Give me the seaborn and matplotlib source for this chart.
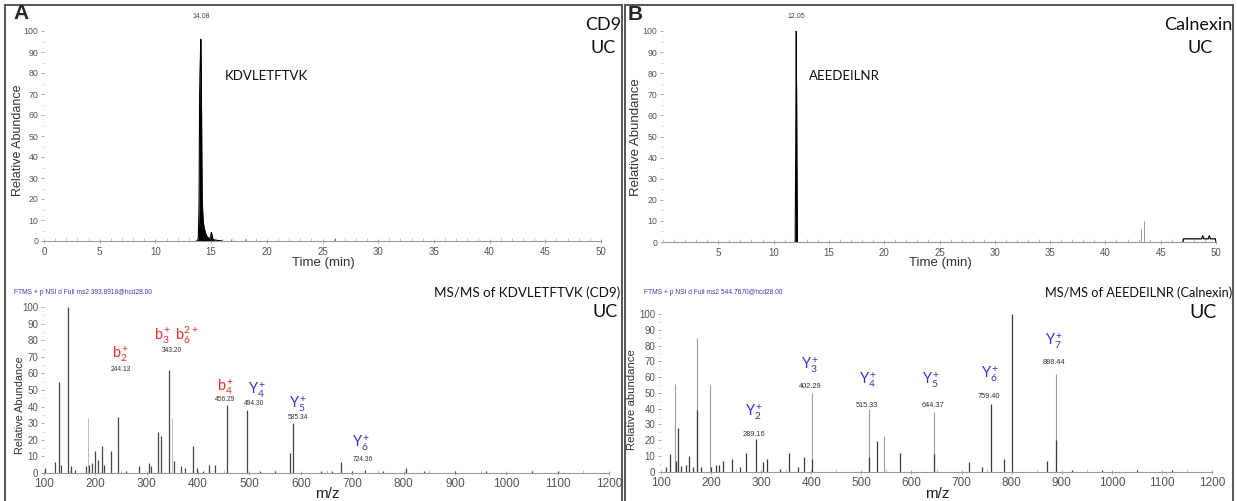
import numpy as np
import pandas as pd
import matplotlib
matplotlib.use("Agg")
import matplotlib.pyplot as plt
import seaborn as sns
from matplotlib.lines import Line2D
from matplotlib.ticker import MultipleLocator, FixedLocator

# ---------------- data ----------------
# Panel A chromatogram (KDVLETFTVK, CD9)
chrom_a_time = [13.70, 13.85, 13.92, 13.97, 14.00, 14.04, 14.08, 14.12, 14.16, 14.20, 14.26,
                14.32, 14.40, 14.48, 14.56, 14.65, 14.75, 14.85, 14.95, 15.02, 15.08, 15.15,
                15.30, 15.60, 16.00]
chrom_a_int = [0, 1, 18, 70, 80, 88, 96, 80, 45, 20, 12, 8, 6, 4, 3, 2, 1.5, 1, 2, 4, 3, 1,
               0.5, 0.3, 0]
chrom_a_minor_time = [16.8, 18.1, 26.1]
chrom_a_minor_int = [1.0, 0.8, 1.5]

# Panel B chromatogram (AEEDEILNR, Calnexin)
chrom_b_time = [11.95, 12.00, 12.02, 12.04, 12.05, 12.06, 12.08, 12.10, 12.15]
chrom_b_int = [0, 44, 70, 85, 100, 85, 70, 44, 0]
chrom_b_tail_time = [47.0, 47.05, 48.7, 48.8, 48.9, 49.3, 49.4, 49.5, 49.95, 50.0]
chrom_b_tail_int = [0, 1.5, 1.5, 3, 1.5, 1.5, 3, 1.5, 1.5, 0]
chrom_b_minor_time = [43.2, 43.45]
chrom_b_minor_int = [6, 10]

# Panel A MS/MS spectrum
mz_a = [101, 122, 129, 134, 147.11, 153, 160, 182, 187.5, 193, 199, 205, 213, 216, 230,
        244.13, 260, 284, 305, 309, 322, 328, 343.20, 354, 367, 375, 390, 397, 410, 421,
        432.5, 456.29, 494.30, 520, 550, 578, 585.34, 640, 660, 679, 700, 724.36, 760, 804,
        840, 900, 960, 1050, 1100]
int_a = [3, 6.6, 55, 5, 100, 4, 2, 4, 5, 6, 13, 8, 16, 5, 13, 34, 1.5, 4, 6, 4, 25, 22, 62,
         7, 4, 3, 16, 3, 1.5, 5, 5, 41, 38, 1, 1.5, 12, 30, 1, 1, 6.5, 1, 2, 1, 3, 1, 1, 1,
         1, 1]
mz_a_light = [185, 350]
int_a_light = [33, 33]

# Panel B MS/MS spectrum
mz_b = [110, 118, 129, 134, 140, 150, 156, 164, 171, 179, 199, 209, 216, 224, 241, 257, 269,
        289.16, 304, 312, 337, 356, 374, 385, 402.29, 515.33, 531, 578, 644.37, 715, 740,
        759.40, 785, 800.37, 870, 888.44, 920, 980, 1050, 1120]
int_b = [3, 11, 7, 28, 3.6, 4, 10, 3, 39, 3, 3, 4, 4, 7, 8, 3, 11.6, 20.5, 6, 8, 2, 11.6, 3,
         9.5, 8, 9.5, 19.7, 12, 11, 6, 3, 43, 8, 100, 7, 20, 1, 1, 1, 1]
mz_b_light = [128, 171, 197, 402.29, 515.33, 546, 644.37, 888.44]
int_b_light = [55.6, 84.6, 55, 50, 40, 22.6, 38, 62]

# Ion annotations (label, x position, y position) and m/z value labels
ions_a = [r"b$_2^+$", r"b$_3^+$ b$_6^{2+}$", r"b$_4^+$", r"Y$_4^+$", r"Y$_5^+$", r"Y$_6^+$"]
ions_a_color = ["#e8302c", "#e8302c", "#e8302c", "#3434cc", "#3434cc", "#3434cc"]
ions_a_x = [250, 358, 453, 515, 595, 718]
ions_a_y = [71.5, 83, 51.6, 50, 41.6, 18]
vals_a = ["244.13", "343.20", "456.29", "494.30", "585.34", "724.36"]
vals_a_x = [250, 348, 453, 509, 594, 720]
vals_a_y = [62.5, 73.7, 44, 41.6, 33.5, 8.4]

ions_b = [r"Y$_2^+$", r"Y$_3^+$", r"Y$_4^+$", r"Y$_5^+$", r"Y$_6^+$", r"Y$_7^+$"]
ions_b_x = [287, 398, 513, 640, 758, 884]
ions_b_y = [38, 67.7, 58, 58, 62, 83]
vals_b = ["289.16", "402.29", "515.33", "644.37", "759.40", "888.44"]
vals_b_x = [285, 397, 512, 642, 755, 885]
vals_b_y = [23.4, 53.8, 42, 42, 48, 69]

chrom_ticks_a = [0, 5, 10, 15, 20, 25, 30, 35, 40, 45, 50]
chrom_ticks_b = [5, 10, 15, 20, 25, 30, 35, 40, 45, 50]
mz_ticks = [100, 200, 300, 400, 500, 600, 700, 800, 900, 1000, 1100, 1200]
y_ticks = [0, 10, 20, 30, 40, 50, 60, 70, 80, 90, 100]

# ---------------- style ----------------
sns.set_theme(style="white")
plt.rcParams["font.family"] = ["Liberation Sans", "DejaVu Sans"]
plt.rcParams["mathtext.fontset"] = "custom"
plt.rcParams["mathtext.rm"] = "Lato"
plt.rcParams["mathtext.it"] = "Lato:italic"
plt.rcParams["mathtext.bf"] = "Lato:bold"

W, H = 1237, 501
fig = plt.figure(figsize=(W / 100, H / 100), dpi=100)
fig.patch.set_facecolor("white")


def box(l, r, b, t):
    return [l / W, 1 - b / H, (r - l) / W, (b - t) / H]


def fx(px):
    return px / W


def fy(py):
    return 1 - py / H


ax_at = fig.add_axes(box(44, 601, 241, 31))
ax_bt = fig.add_axes(box(663, 1216, 242, 31))
ax_ab = fig.add_axes(box(44, 609, 473, 307))
ax_bb = fig.add_axes(box(661, 1212, 471.7, 314))

TICKC = "#555555"


def style_axis(ax, xlim, xticks, xminor, xlab_size, ylab_size, xpad):
    ax.set_xlim(*xlim)
    ax.set_ylim(0, 100)
    for s in ["top", "right", "left"]:
        ax.spines[s].set_visible(False)
    ax.spines["bottom"].set_color("#9a9a9a")
    ax.spines["bottom"].set_linewidth(0.8)
    ax.xaxis.set_major_locator(FixedLocator(xticks))
    ax.xaxis.set_minor_locator(MultipleLocator(xminor))
    ax.yaxis.set_major_locator(FixedLocator(y_ticks))
    ax.yaxis.set_minor_locator(MultipleLocator(5))
    ax.tick_params(axis="x", which="major", direction="inout", length=3, width=0.6,
                   color="#999999", labelsize=xlab_size, labelcolor=TICKC, pad=xpad,
                   bottom=True)
    ax.tick_params(axis="x", which="minor", direction="in", length=2, width=0.5,
                   color="#aaaaaa", bottom=True)
    ax.tick_params(axis="y", which="major", direction="out", length=2.5, width=0.6,
                   color="#999999", labelsize=ylab_size, labelcolor=TICKC, pad=1.5, left=True)
    ax.tick_params(axis="y", which="minor", direction="out", length=1.5, width=0.5,
                   color="#bbbbbb", left=True)
    ax.set_xlabel("")
    ax.set_ylabel("")
    ax.set_facecolor("none")


# ---- chromatogram A ----
dfa = pd.DataFrame({"time": chrom_a_time, "intensity": chrom_a_int})
sns.lineplot(data=dfa, x="time", y="intensity", ax=ax_at, color="black", lw=0.8,
             estimator=None, sort=False)
ax_at.fill_between(dfa["time"], 0, dfa["intensity"], color="black", lw=0)
ax_at.vlines(chrom_a_minor_time, 0, chrom_a_minor_int, colors="#777777", lw=0.7)
style_axis(ax_at, (0, 50), chrom_ticks_a, 1, 7, 6.3, 3)
ax_at.text(14.08, 105, "14.08", ha="center", va="bottom", fontsize=5, color="#444444",
           clip_on=False)
ax_at.text(16.25, 78.5, "KDVLETFTVK", ha="left", va="center", fontsize=9.5,
           family="Lato", color="#111111")

# ---- chromatogram B ----
dfb = pd.DataFrame({"time": chrom_b_time, "intensity": chrom_b_int})
sns.lineplot(data=dfb, x="time", y="intensity", ax=ax_bt, color="black", lw=0.8,
             estimator=None, sort=False)
ax_bt.fill_between(dfb["time"], 0, dfb["intensity"], color="black", lw=0)
dfb2 = pd.DataFrame({"time": chrom_b_tail_time, "intensity": chrom_b_tail_int})
sns.lineplot(data=dfb2, x="time", y="intensity", ax=ax_bt, color="black", lw=0.9,
             estimator=None, sort=False)
ax_bt.vlines(chrom_b_minor_time, 0, chrom_b_minor_int, colors="#999999", lw=0.7)
style_axis(ax_bt, (0, 50), chrom_ticks_b, 1, 7, 6.3, 3)
ax_bt.text(12.05, 105, "12.05", ha="center", va="bottom", fontsize=5, color="#444444",
           clip_on=False)
ax_bt.text(13.2, 78.5, "AEEDEILNR", ha="left", va="center", fontsize=9.5,
           family="Lato", color="#111111")

# ---- spectrum A ----
ax_ab.vlines(mz_a_light, 0, int_a_light, colors="#bdbdbd", lw=0.7)
ax_ab.vlines(mz_a, 0, int_a, colors="#444444", lw=0.9)
style_axis(ax_ab, (100, 1200), mz_ticks, 50, 8.5, 7, 2)
for lab, c, x, y in zip(ions_a, ions_a_color, ions_a_x, ions_a_y):
    ax_ab.text(x, y, lab, ha="center", va="center", fontsize=10.5, color=c, family="Lato")
for lab, x, y in zip(vals_a, vals_a_x, vals_a_y):
    ax_ab.text(x, y, lab, ha="center", va="center", fontsize=4.8, color="#333333")

# ---- spectrum B ----
ax_bb.vlines(mz_b_light, 0, int_b_light, colors="#9e9e9e", lw=0.8)
ax_bb.vlines(mz_b, 0, int_b, colors="#3a3a3a", lw=0.9)
style_axis(ax_bb, (100, 1200), mz_ticks, 50, 8.5, 7, 2)
for lab, x, y in zip(ions_b, ions_b_x, ions_b_y):
    ax_bb.text(x, y, lab, ha="center", va="center", fontsize=10.5, color="#3434cc",
               family="Lato")
for lab, x, y in zip(vals_b, vals_b_x, vals_b_y):
    ax_bb.text(x, y, lab, ha="center", va="center", fontsize=5.3, color="#333333")

# ---------------- figure texts ----------------
fig.text(fx(13), fy(4), "A", fontsize=15, fontweight="bold", ha="left", va="top")
fig.text(fx(628), fy(5), "B", fontsize=15, fontweight="bold", ha="left", va="top")

lato = dict(family="Lato", color="#111111")
fig.text(fx(603), fy(25), "CD9", fontsize=13, ha="center", va="center", **lato)
fig.text(fx(603), fy(48), "UC", fontsize=13, ha="center", va="center", **lato)
fig.text(fx(1198), fy(25), "Calnexin", fontsize=13, ha="center", va="center", **lato)
fig.text(fx(1200), fy(48), "UC", fontsize=13, ha="center", va="center", **lato)

fig.text(fx(620), fy(293), "MS/MS of KDVLETFTVK (CD9)", fontsize=9.6, ha="right",
         va="center", **lato)
fig.text(fx(605), fy(312), "UC", fontsize=13, ha="center", va="center", **lato)
fig.text(fx(1232), fy(293), "MS/MS of AEEDEILNR (Calnexin)", fontsize=9.2, ha="right",
         va="center", **lato)
fig.text(fx(1203), fy(313), "UC", fontsize=14, ha="center", va="center", **lato)

fig.text(fx(14), fy(293), "FTMS + p NSI d Full ms2 393.8918@hcd28.00", fontsize=4.8,
         color="#3b3bbf", ha="left", va="center")
fig.text(fx(644), fy(293), "FTMS + p NSI d Full ms2 544.7670@hcd28.00", fontsize=4.8,
         color="#3b3bbf", ha="left", va="center")

fig.text(fx(323), fy(263), "Time (min)", fontsize=9.5, ha="center", va="center",
         color="#333333")
fig.text(fx(940), fy(263), "Time (min)", fontsize=9.5, ha="center", va="center",
         color="#333333")
fig.text(fx(327), fy(494), "m/z", fontsize=11, ha="center", va="center", color="#222222")
fig.text(fx(937), fy(494), "m/z", fontsize=11, ha="center", va="center", color="#222222")

fig.text(fx(18), fy(140), "Relative Abundance", fontsize=9, rotation=90, ha="center",
         va="center", color="#333333")
fig.text(fx(636), fy(137), "Relative Abundance", fontsize=9.5, rotation=90, ha="center",
         va="center", color="#333333")
fig.text(fx(20), fy(405), "Relative Abundance", fontsize=7.8, rotation=90, ha="center",
         va="center", color="#333333")
fig.text(fx(632), fy(400), "Relative abundance", fontsize=8.2, rotation=90, ha="center",
         va="center", color="#333333")

# ---------------- panel frames ----------------
frame = dict(color="#555555", lw=1.4, transform=fig.transFigure)
for l, r in [(5, 622), (625, 1233)]:
    fig.add_artist(Line2D([fx(l), fx(r)], [fy(5), fy(5)], **frame))
    fig.add_artist(Line2D([fx(l), fx(l)], [fy(5), fy(501)], **frame))
    fig.add_artist(Line2D([fx(r), fx(r)], [fy(5), fy(501)], **frame))

fig.savefig("out.png", dpi=100, facecolor="white")
